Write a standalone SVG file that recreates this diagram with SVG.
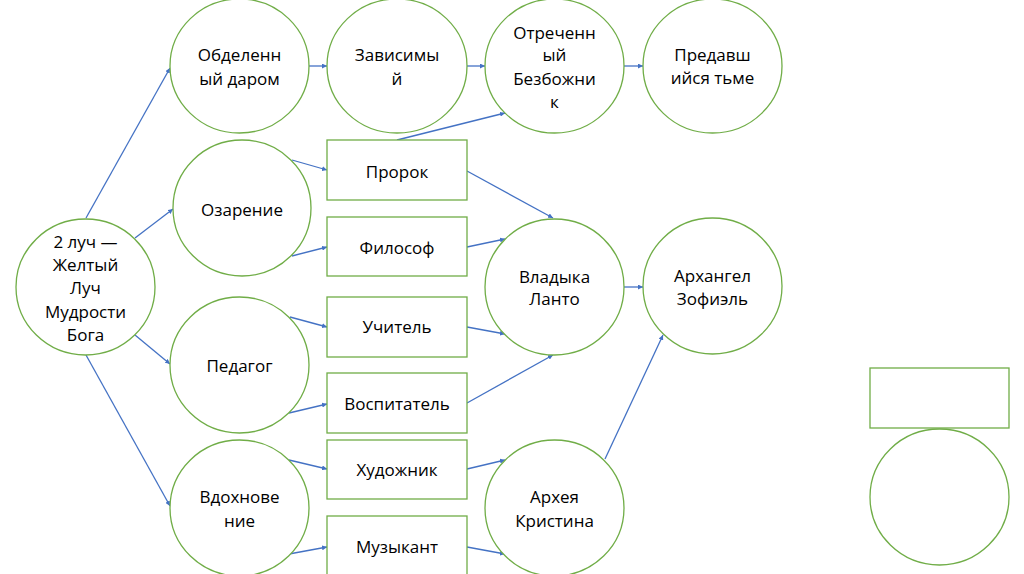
<svg xmlns="http://www.w3.org/2000/svg" width="1024" height="574" viewBox="0 0 1024 574">
<style>
.n{fill:#fff;stroke:#70AD47;stroke-width:1.3}
.t{font-family:"Open Sans","Liberation Sans",sans-serif;font-size:17px;fill:#000;text-anchor:middle}
.c line{stroke:#4472C4;stroke-width:1.3;marker-end:url(#a)}
</style>
<defs>
<marker id="a" viewBox="0 0 10 10" refX="10" refY="5" markerWidth="5" markerHeight="5" orient="auto" markerUnits="userSpaceOnUse">
<path d="M0,0 L10,5 L0,10 z" fill="#4472C4"/>
</marker>
</defs>
<rect width="1024" height="574" fill="#fff"/>
<g id="connectors" class="c">
<line x1="86" y1="218" x2="170" y2="68"/>
<line x1="135" y1="238" x2="173" y2="209"/>
<line x1="135" y1="335" x2="170" y2="364"/>
<line x1="86" y1="355" x2="170" y2="506"/>
<line x1="309" y1="66" x2="327" y2="66"/>
<line x1="467" y1="66" x2="485" y2="66"/>
<line x1="624" y1="66" x2="643" y2="66"/>
<line x1="397" y1="140" x2="505" y2="113"/>
<line x1="292" y1="160" x2="327" y2="170"/>
<line x1="292" y1="256" x2="327" y2="247"/>
<line x1="467" y1="171" x2="553" y2="218"/>
<line x1="467" y1="247" x2="505" y2="239"/>
<line x1="290" y1="317" x2="327" y2="327"/>
<line x1="289" y1="413" x2="327" y2="404"/>
<line x1="467" y1="327" x2="505" y2="334"/>
<line x1="467" y1="403" x2="553" y2="355"/>
<line x1="289" y1="460" x2="327" y2="469"/>
<line x1="289" y1="554" x2="327" y2="547"/>
<line x1="467" y1="469" x2="505" y2="460"/>
<line x1="467" y1="547" x2="505" y2="554"/>
<line x1="624" y1="287" x2="643" y2="287"/>
<line x1="605" y1="459" x2="663" y2="335"/>
</g>
<g id="n-root"><ellipse class="n" cx="85.5" cy="287" rx="69.5" ry="68"/>
<text class="t"><tspan x="85.5" y="248">2 луч —</tspan><tspan x="85.5" y="271">Желтый</tspan><tspan x="85.5" y="294">Луч</tspan><tspan x="85.5" y="318">Мудрости</tspan><tspan x="85.5" y="341">Бога</tspan></text></g>
<g id="n-obdel"><ellipse class="n" cx="239.5" cy="66" rx="69.5" ry="67"/>
<text class="t"><tspan x="239.5" y="61">Обделенн</tspan><tspan x="239.5" y="85">ый даром</tspan></text></g>
<g id="n-zavis"><ellipse class="n" cx="397" cy="66" rx="70" ry="67"/>
<text class="t"><tspan x="397" y="61">Зависимы</tspan><tspan x="397" y="85">й</tspan></text></g>
<g id="n-otrech"><ellipse class="n" cx="554.5" cy="66" rx="69.5" ry="67"/>
<text class="t"><tspan x="554.5" y="39">Отреченн</tspan><tspan x="554.5" y="61">ый</tspan><tspan x="554.5" y="85">Безбожни</tspan><tspan x="554.5" y="108">к</tspan></text></g>
<g id="n-predav"><ellipse class="n" cx="712.5" cy="66" rx="69.5" ry="67"/>
<text class="t"><tspan x="712.5" y="61">Предавш</tspan><tspan x="712.5" y="84">ийся тьме</tspan></text></g>
<g id="n-ozar"><ellipse class="n" cx="242" cy="208" rx="69" ry="68"/>
<text class="t" x="242" y="216">Озарение</text></g>
<g id="n-pedag"><ellipse class="n" cx="239.5" cy="365" rx="69.5" ry="68"/>
<text class="t" x="239.5" y="372">Педагог</text></g>
<g id="n-vdohn"><ellipse class="n" cx="239.5" cy="508" rx="69.5" ry="68"/>
<text class="t"><tspan x="239.5" y="503">Вдохнове</tspan><tspan x="239.5" y="527">ние</tspan></text></g>
<g id="n-prorok"><rect class="n" x="327" y="140" width="140" height="60"/>
<text class="t" x="397" y="178">Пророк</text></g>
<g id="n-filos"><rect class="n" x="327" y="217" width="140" height="59"/>
<text class="t" x="397" y="254">Философ</text></g>
<g id="n-uchit"><rect class="n" x="327" y="297" width="140" height="60"/>
<text class="t" x="397" y="333">Учитель</text></g>
<g id="n-vospit"><rect class="n" x="327" y="373" width="140" height="60"/>
<text class="t" x="397" y="410">Воспитатель</text></g>
<g id="n-hudozh"><rect class="n" x="327" y="440" width="140" height="59"/>
<text class="t" x="397" y="476">Художник</text></g>
<g id="n-muzyk"><rect class="n" x="327" y="516" width="140" height="60"/>
<text class="t" x="397" y="553">Музыкант</text></g>
<g id="n-lanto"><ellipse class="n" cx="554.5" cy="287" rx="69.5" ry="68"/>
<text class="t"><tspan x="554.5" y="283">Владыка</tspan><tspan x="554.5" y="305">Ланто</tspan></text></g>
<g id="n-arheya"><ellipse class="n" cx="554.5" cy="508" rx="69.5" ry="68"/>
<text class="t"><tspan x="554.5" y="503">Архея</tspan><tspan x="554.5" y="527">Кристина</tspan></text></g>
<g id="n-arhangel"><ellipse class="n" cx="712.5" cy="286" rx="69.5" ry="68"/>
<text class="t"><tspan x="712.5" y="282">Архангел</tspan><tspan x="712.5" y="305">Зофиэль</tspan></text></g>
<g id="n-legend-rect"><rect class="n" x="870" y="368" width="139" height="60"/></g>
<g id="n-legend-circle"><ellipse class="n" cx="939.5" cy="497" rx="69.5" ry="68"/></g>
</svg>
